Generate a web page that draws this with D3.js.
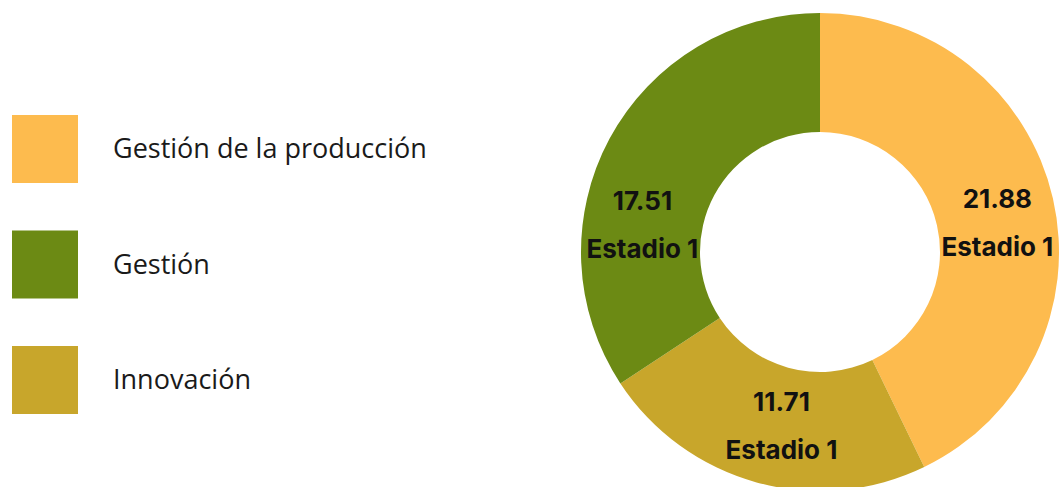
<!DOCTYPE html>
<html>
<head>
<meta charset="utf-8">
<script src="https://cdn.jsdelivr.net/npm/d3@7"></script>
<style>
  html, body { margin: 0; padding: 0; background: #fff; }
  svg { display: block; }
</style>
</head>
<body>
<svg id="chart" width="1063" height="487"></svg>
<script>
// Series data
const categories = ["Gestión de la producción", "Innovación", "Gestión"];
const values = [21.88, 11.71, 17.51];
const stageLabels = ["Estadio 1", "Estadio 1", "Estadio 1"];
const colors = ["#FDBB4E", "#C8A62B", "#6C8A14"];
// Legend order as listed beside the ring
const legendOrder = ["Gestión de la producción", "Gestión", "Innovación"];
// Small angular nudge (degrees) for each slice label toward the horizontal
const labelNudge = [4, -3, -20];

const svg = d3.select("#chart");

const cx = 820, cy = 252;
const outerR = 239, innerR = 120;

const color = d3.scaleOrdinal().domain(categories).range(colors);

const pie = d3.pie().sort(null).value(d => d.value);
const data = categories.map((c, i) => ({ name: c, value: values[i], stage: stageLabels[i], nudge: labelNudge[i] }));
const arcs = pie(data);

const arc = d3.arc().innerRadius(innerR).outerRadius(outerR);

const g = svg.append("g").attr("transform", `translate(${cx},${cy})`);

g.selectAll("path.slice")
  .data(arcs)
  .join("path")
  .attr("class", "slice")
  .attr("d", arc)
  .attr("fill", d => color(d.data.name));

// Slice labels: value on top, stage below, centred in the ring
const labelR = (innerR + outerR) / 2;
const labelFont = "Inter, Roboto, 'DejaVu Sans', sans-serif";
const labels = g.selectAll("g.label")
  .data(arcs)
  .join("g")
  .attr("class", "label")
  .attr("transform", d => {
    const a = (d.startAngle + d.endAngle) / 2 + d.data.nudge * Math.PI / 180;
    return `translate(${labelR * Math.sin(a)},${-labelR * Math.cos(a)})`;
  });

labels.append("text")
  .attr("text-anchor", "middle")
  .attr("y", -16)
  .style("font-family", labelFont)
  .style("font-weight", "700")
  .style("font-size", "26px")
  .attr("fill", "#111")
  .text(d => d3.format(".2f")(d.data.value));

labels.append("text")
  .attr("text-anchor", "middle")
  .attr("y", 32)
  .style("font-family", labelFont)
  .style("font-weight", "700")
  .style("font-size", "26px")
  .attr("fill", "#111")
  .text(d => d.data.stage);

// Legend
const legendY = d3.scalePoint().domain(legendOrder).range([149, 380]);
const legend = svg.append("g").selectAll("g")
  .data(legendOrder)
  .join("g")
  .attr("transform", d => `translate(12,${legendY(d)})`);

legend.append("rect")
  .attr("x", 0)
  .attr("y", -34)
  .attr("width", 66)
  .attr("height", 68)
  .attr("fill", d => color(d));

legend.append("text")
  .attr("x", 101)
  .attr("y", 0)
  .attr("dy", "0.35em")
  .style("font-family", "'Open Sans', sans-serif")
  .style("font-size", "27px")
  .attr("fill", "#1a1a1a")
  .text(d => d);
</script>
</body>
</html>
